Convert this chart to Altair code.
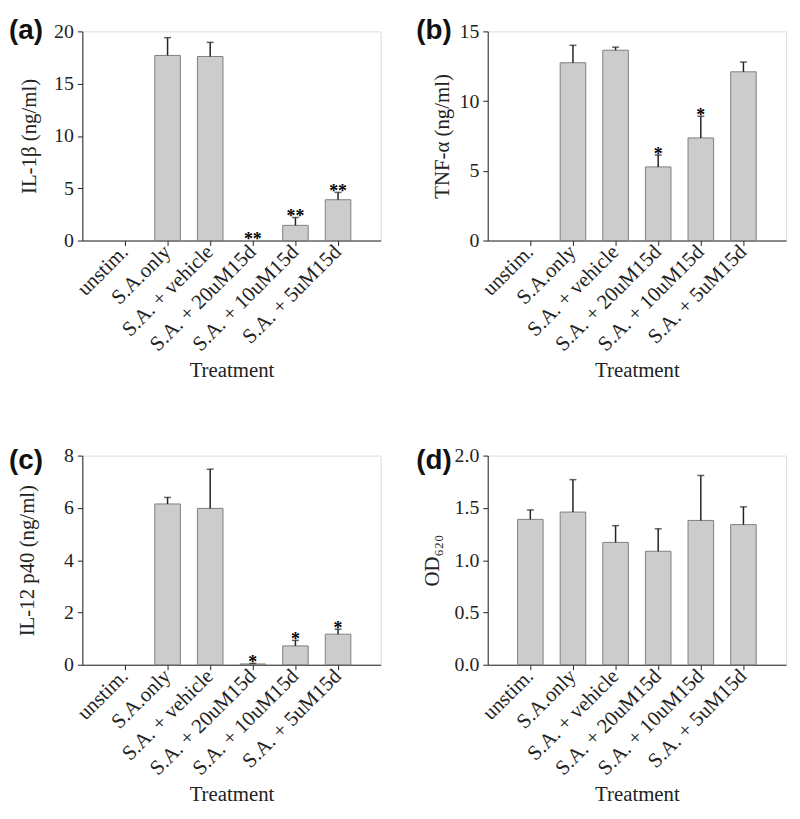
import altair as alt
import pandas as pd

categories = ["unstim.", "S.A.only", "S.A. + vehicle", "S.A. + 20uM15d",
              "S.A. + 10uM15d", "S.A. + 5uM15d"]

il1b_mean = [0.0, 17.7, 17.6, 0.0, 1.45, 3.9]
il1b_err = [0.0, 1.7, 1.35, 0.0, 0.75, 0.7]
il1b_sig = ["", "", "", "**", "**", "**"]

tnf_mean = [0.0, 12.75, 13.65, 5.28, 7.36, 12.1]
tnf_err = [0.0, 1.25, 0.22, 0.85, 1.55, 0.7]
tnf_sig = ["", "", "", "*", "*", ""]

il12_mean = [0.0, 6.15, 5.98, 0.03, 0.72, 1.17]
il12_err = [0.0, 0.25, 1.5, 0.02, 0.21, 0.19]
il12_sig = ["", "", "", "*", "*", "*"]

od_mean = [1.39, 1.46, 1.17, 1.085, 1.38, 1.34]
od_err = [0.09, 0.31, 0.16, 0.215, 0.43, 0.17]
od_sig = ["", "", "", "", "", ""]

SERIF = "Liberation Serif"
INK = "#222222"


def panel(letter, mean, err, sig, ytitle, ymax, yticks, fmt, tpad, ext, letter_x, letter_y):
    df = pd.DataFrame({
        "cat": categories,
        "mean": mean,
        "upper": [m + e for m, e in zip(mean, err)],
        "sig": sig,
    })
    xenc = alt.X(
        "cat:N", sort=categories,
        scale=alt.Scale(domain=categories, paddingInner=0.4, paddingOuter=0.7),
        axis=alt.Axis(title="Treatment", labelAngle=315, labelAlign="right",
                      labelBaseline="middle", labelFont=SERIF, labelFontSize=21,
                      labelColor=INK, labelPadding=3, tickSize=5, tickColor=INK,
                      domainColor=INK, titleFont=SERIF, titleFontSize=21,
                      titleFontWeight="normal", titleColor=INK, titlePadding=5,
                      labelOverlap=False),
    )
    yscale = alt.Scale(domain=[0, ymax], nice=False, zero=True)
    yaxis = alt.Axis(title=ytitle, values=yticks, format=fmt, grid=False,
                     tickSize=5, tickColor=INK, domainColor=INK, labelPadding=4,
                     labelFont=SERIF, labelFontSize=20, labelColor=INK,
                     titleFont=SERIF, titleFontSize=21, titleFontWeight="normal",
                     titleColor=INK, titlePadding=tpad, minExtent=ext, maxExtent=ext)
    base = alt.Chart(df)
    bars = base.transform_filter("datum.mean > 0").mark_bar(
        color="#cccccc", stroke="#808080", strokeWidth=1).encode(
        x=xenc, y=alt.Y("mean:Q", scale=yscale, axis=yaxis, title=ytitle))
    errs = base.transform_filter("datum.upper > datum.mean")
    rule = errs.mark_rule(color=INK, strokeWidth=1.5).encode(
        x=xenc, y=alt.Y("mean:Q", scale=yscale, axis=yaxis, title=ytitle), y2="upper:Q")
    cap = errs.mark_tick(color=INK, thickness=1.5, size=7).encode(
        x=xenc, y=alt.Y("upper:Q", scale=yscale, axis=yaxis, title=ytitle))
    stars = base.transform_filter("datum.sig != ''").mark_text(
        font=SERIF, fontSize=18, fontWeight="bold", color="#000000",
        baseline="alphabetic", dy=5).encode(
        x=xenc, y=alt.Y("upper:Q", scale=yscale, axis=yaxis, title=ytitle),
        text="sig:N")
    lab = alt.Chart(pd.DataFrame({"t": [letter]})).mark_text(
        font="Liberation Sans", fontWeight="bold", fontSize=28, color="#111111",
        align="left", baseline="top").encode(
        text="t:N", x=alt.value(letter_x), y=alt.value(letter_y))
    return alt.layer(bars, rule, cap, stars, lab).properties(width=301, height=211)


pa = panel("(a)", il1b_mean, il1b_err, il1b_sig, "IL-1β (ng/ml)", 20,
           [0, 5, 10, 15, 20], "d", 11, 32, -74, -14)
pb = panel("(b)", tnf_mean, tnf_err, tnf_sig, "TNF-α (ng/ml)", 15,
           [0, 5, 10, 15], "d", 4, 32, -72, -14)
pc = panel("(c)", il12_mean, il12_err, il12_sig, "IL-12 p40 (ng/ml)", 8,
           [0, 2, 4, 6, 8], "d", 13, 32, -74, -8)
pd_ = panel("(d)", od_mean, od_err, od_sig, "OD₆₂₀", 2.0,
            [0.0, 0.5, 1.0, 1.5, 2.0], ".1f", 8, 38, -72, -8)

top = alt.hconcat(pa, pb, spacing=34)
bottom = alt.hconcat(pc, pd_, spacing=34)
chart = alt.vconcat(top, bottom, spacing=64).properties(
    padding={"left": 0, "top": 5, "right": 5, "bottom": 5}
).configure_view(stroke=None).configure(background="white")

chart.save("out.html", embed_options={"renderer": "svg", "actions": False})
